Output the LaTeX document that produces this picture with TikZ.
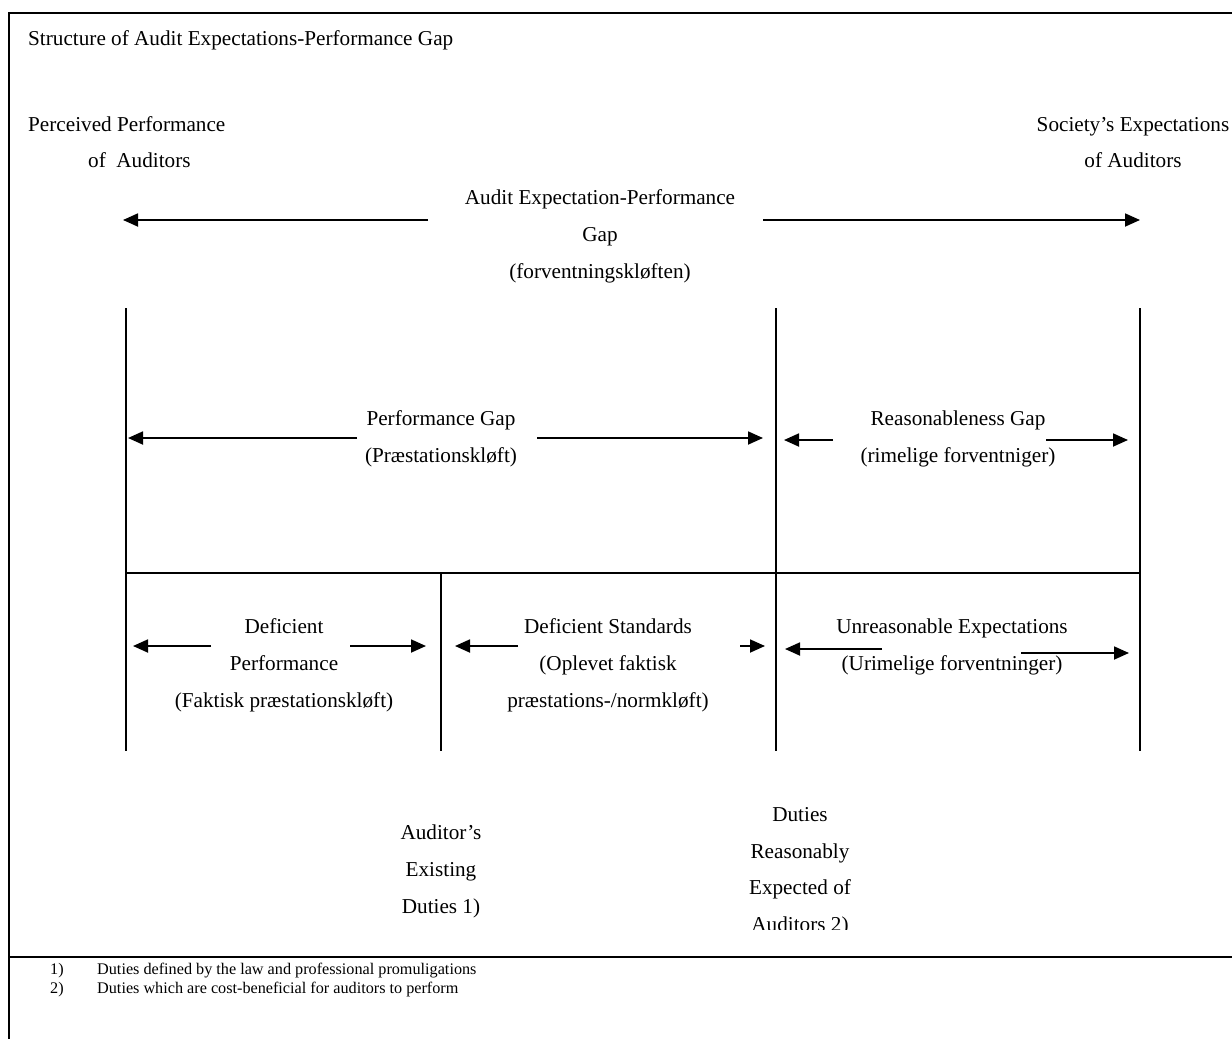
\documentclass[tikz,border=0pt]{standalone}
\usepackage{fontspec}
\setmainfont{Liberation Serif}
\usetikzlibrary{arrows.meta}
\begin{document}
\begin{tikzpicture}[x=1pt,y=-1pt,
  txt/.style={font=\fontsize{21.2}{37}\selectfont, inner sep=0pt, align=center, anchor=base},
  fn/.style={font=\fontsize{16.2}{19}\selectfont, inner sep=0pt, anchor=base west},
  frameline/.style={line width=2.6pt},
  divider/.style={line width=1.8pt},
  gaparrow/.style={line width=1.8pt, -{Triangle[length=15pt,width=13pt]}}
]
\useasboundingbox (0,0) rectangle (1232,1039);
% frame
\coordinate (fBL) at (9,1039);
\coordinate (fTL) at (9,13);
\coordinate (fTR) at (1232,13);
\coordinate (sL) at (9,957);
\coordinate (sR) at (1232,957);
\draw[frameline] (fBL) -- (fTL) -- (fTR);
\draw[frameline] (sL) -- (sR);

% texts at top (base anchor = baseline of the last line)
\node[txt, anchor=base west, align=left] (title) at (28,45) {Structure of Audit Expectations-Performance Gap};
\node[txt, anchor=base west, align=left, font=\fontsize{21.2}{36}\selectfont] (perc) at (28,167) {Perceived Performance\\\hspace*{60pt}of\ \ Auditors};
\node[txt, font=\fontsize{21.2}{36}\selectfont] (soc) at (1133,167) {Society's Expectations\\of Auditors};
\node[txt] (aepg) at (600,278) {Audit Expectation-Performance\\Gap\\(forventningskløften)};

% top arrows
\coordinate (tL0) at (428,220); \coordinate (tL1) at (123,220);
\coordinate (tR0) at (763,220); \coordinate (tR1) at (1140,220);
\draw[gaparrow] (tL0) -- (tL1);
\draw[gaparrow] (tR0) -- (tR1);

% structure lines
\coordinate (v1t) at (126,308); \coordinate (v1b) at (126,751);
\coordinate (v3t) at (776,308); \coordinate (v3b) at (776,751);
\coordinate (v4t) at (1140,308); \coordinate (v4b) at (1140,751);
\coordinate (v2t) at (441,573); \coordinate (v2b) at (441,751);
\coordinate (hL) at (126,573); \coordinate (hR) at (1140,573);
\draw[divider] (v1t) -- (v1b);
\draw[divider] (v3t) -- (v3b);
\draw[divider] (v4t) -- (v4b);
\draw[divider] (v2t) -- (v2b);
\draw[divider] (hL) -- (hR);

% middle row
\node[txt] (pg) at (441,462) {Performance Gap\\(Præstationskløft)};
\coordinate (pgL0) at (357,438); \coordinate (pgL1) at (128,438);
\coordinate (pgR0) at (537,438); \coordinate (pgR1) at (763,438);
\draw[gaparrow] (pgL0) -- (pgL1);
\draw[gaparrow] (pgR0) -- (pgR1);

\node[txt] (rg) at (958,462) {Reasonableness Gap\\(rimelige forventniger)};
\coordinate (rgL0) at (833,440); \coordinate (rgL1) at (784,440);
\coordinate (rgR0) at (1046,440); \coordinate (rgR1) at (1128,440);
\draw[gaparrow] (rgL0) -- (rgL1);
\draw[gaparrow] (rgR0) -- (rgR1);

% bottom row
\node[txt] (dp) at (284,707) {Deficient\\Performance\\(Faktisk præstationskløft)};
\coordinate (dpL0) at (211,646); \coordinate (dpL1) at (133,646);
\coordinate (dpR0) at (350,646); \coordinate (dpR1) at (426,646);
\draw[gaparrow] (dpL0) -- (dpL1);
\draw[gaparrow] (dpR0) -- (dpR1);

\node[txt] (ds) at (608,707) {Deficient Standards\\(Oplevet faktisk\\præstations-/normkløft)};
\coordinate (dsL0) at (518,646); \coordinate (dsL1) at (455,646);
\coordinate (dsR0) at (740,646); \coordinate (dsR1) at (765,646);
\draw[gaparrow] (dsL0) -- (dsL1);
\draw[gaparrow] (dsR0) -- (dsR1);

\node[txt] (ue) at (952,670) {Unreasonable Expectations\\(Urimelige forventninger)};
\coordinate (ueL0) at (882,649); \coordinate (ueL1) at (785,649);
\coordinate (ueR0) at (1021,653); \coordinate (ueR1) at (1129,653);
\draw[gaparrow] (ueL0) -- (ueL1);
\draw[gaparrow] (ueR0) -- (ueR1);

% duties labels
\node[txt] (aed) at (441,913) {Auditor's\\Existing\\Duties 1)};
\begin{scope}
  \clip (700,790) rectangle (900,929);
  \node[txt, font=\fontsize{21.2}{36.5}\selectfont] (dre) at (800,931) {Duties\\Reasonably\\Expected of\\Auditors 2)};
\end{scope}

% footnotes
\node[fn] (n1) at (50,974) {1)};
\node[fn] (f1) at (97,974) {Duties defined by the law and professional promuligations};
\node[fn] (n2) at (50,993) {2)};
\node[fn] (f2) at (97,993) {Duties which are cost-beneficial for auditors to perform};
\end{tikzpicture}
\end{document}
